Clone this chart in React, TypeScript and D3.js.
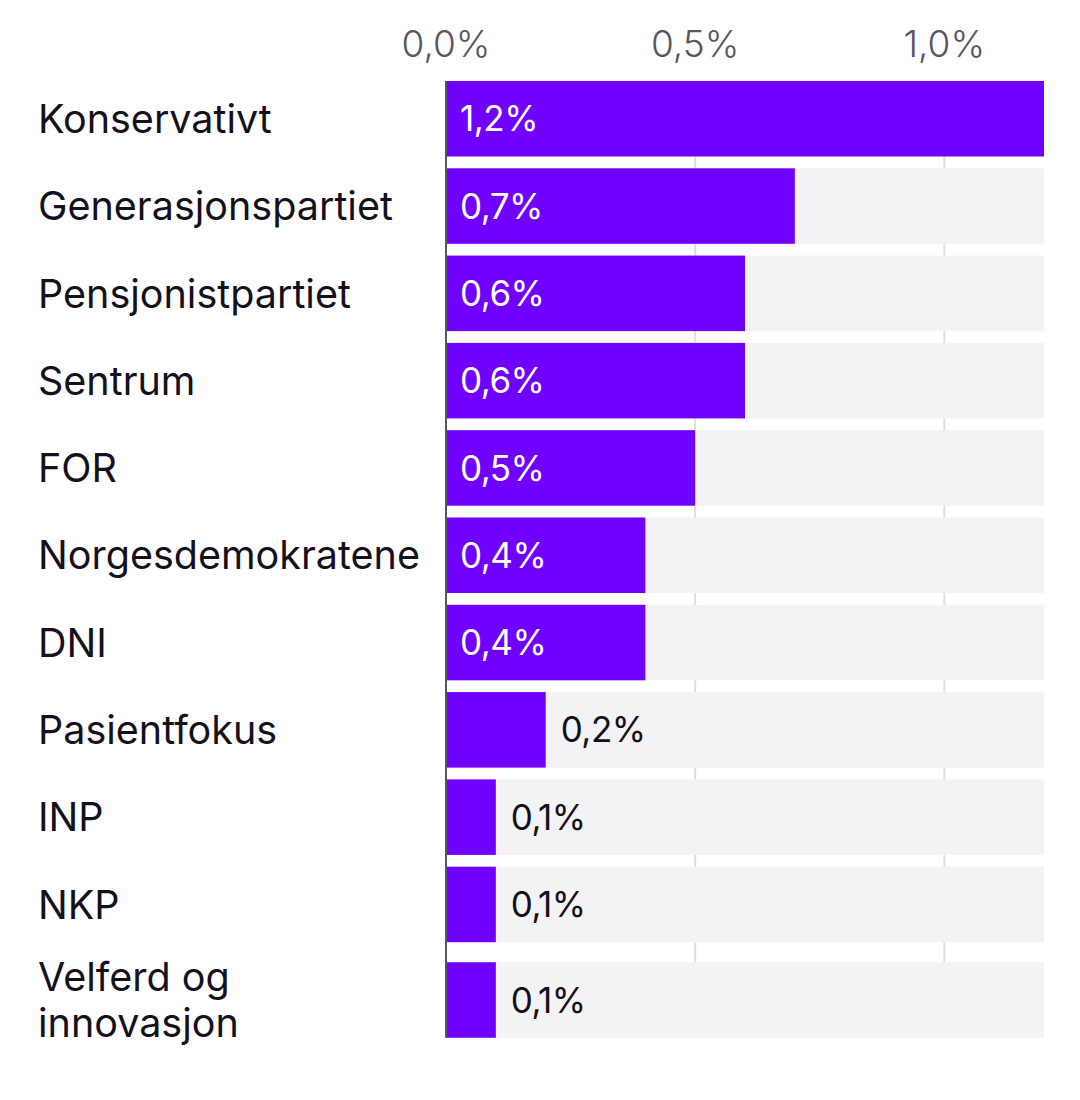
import { useEffect, useRef } from 'react';
import * as d3 from 'd3';

const parties = [
  'Konservativt',
  'Generasjonspartiet',
  'Pensjonistpartiet',
  'Sentrum',
  'FOR',
  'Norgesdemokratene',
  'DNI',
  'Pasientfokus',
  'INP',
  'NKP',
  'Velferd og innovasjon',
];
const shares = [1.2, 0.7, 0.6, 0.6, 0.5, 0.4, 0.4, 0.2, 0.1, 0.1, 0.1];
const tickValues = [0, 0.5, 1.0];

const fmt = (v: number) => v.toFixed(1).replace('.', ',') + '%';

export default function App() {
  const ref = useRef<SVGSVGElement>(null);

  useEffect(() => {
    document.body.style.margin = '0';
    if (!ref.current) return;

    const W = 1080, H = 1100;
    const left = 446, right = 1044, top = 81;
    const barH = 75.5, gap = 11.8, lineH = 46;
    const font = 'Inter, "Noto Sans", sans-serif';
    const labelSize = 39.5;
    const tickSize = 37;
    const valueSize = 35;

    // wrap long labels into lines (only the last one needs it)
    const lines = parties.map(p => (p.length > 20 ? ['Velferd og', 'innovasjon'] : [p]));
    const rowH = lines.map(l => Math.max(barH, l.length * lineH));
    const offsets = [0, ...d3.cumsum(rowH.map(h => h + gap))];

    const x = d3.scaleLinear().domain([0, 1.2]).range([left, right]);

    const rows = parties.map((p, i) => {
      const y0 = top + offsets[i];
      const by = y0 + (rowH[i] - barH) / 2;
      return { p, v: shares[i], lines: lines[i], y: by, cy: by + barH / 2 };
    });
    const bottom = rows[rows.length - 1].y + barH;

    const svg = d3.select(ref.current);
    svg.selectAll('*').remove();
    svg.attr('viewBox', `0 0 ${W} ${H}`).attr('width', W).attr('height', H);

    svg.append('rect').attr('width', W).attr('height', H).attr('fill', '#fff');

    // grid lines
    svg.append('g')
      .selectAll('line')
      .data(tickValues.slice(1))
      .enter()
      .append('line')
      .attr('x1', d => x(d)).attr('x2', d => x(d))
      .attr('y1', top).attr('y2', bottom)
      .attr('stroke', '#dedde0').attr('stroke-width', 2);

    // tick labels
    svg.append('g')
      .selectAll('text')
      .data(tickValues)
      .enter()
      .append('text')
      .attr('x', d => x(d))
      .attr('y', 57)
      .attr('text-anchor', 'middle')
      .attr('font-family', font)
      .attr('font-size', tickSize)
      .attr('font-weight', 300)
      .attr('fill', '#5a5560')
      .text(d => fmt(d));

    const g = svg.append('g');

    // background tracks
    g.selectAll('rect.bg')
      .data(rows)
      .enter()
      .append('rect')
      .attr('class', 'bg')
      .attr('x', left)
      .attr('y', d => d.y)
      .attr('width', right - left)
      .attr('height', barH)
      .attr('fill', '#f3f2f4');

    // bars
    g.selectAll('rect.bar')
      .data(rows)
      .enter()
      .append('rect')
      .attr('class', 'bar')
      .attr('x', left)
      .attr('y', d => d.y)
      .attr('width', d => x(d.v) - left)
      .attr('height', barH)
      .attr('fill', '#7000ff');

    // axis line
    svg.append('line')
      .attr('x1', left).attr('x2', left)
      .attr('y1', top).attr('y2', bottom)
      .attr('stroke', '#5a5560').attr('stroke-width', 2);

    // value labels
    g.selectAll('text.val')
      .data(rows)
      .enter()
      .append('text')
      .attr('class', 'val')
      .attr('x', d => (d.v >= 0.4 ? left + 14 : x(d.v) + 15))
      .attr('y', d => d.cy)
      .attr('dy', '0.36em')
      .attr('font-family', font)
      .attr('font-size', valueSize)
      .attr('letter-spacing', -0.5)
      .attr('fill', d => (d.v >= 0.4 ? '#fff' : '#14101c'))
      .text(d => fmt(d.v));

    // category labels
    const lab = g.selectAll('text.lab')
      .data(rows)
      .enter()
      .append('text')
      .attr('class', 'lab')
      .attr('x', 38)
      .attr('y', d => d.cy - ((d.lines.length - 1) * lineH) / 2)
      .attr('font-family', font)
      .attr('font-size', labelSize)
      .attr('fill', '#14101c');
    lab.selectAll('tspan')
      .data(d => d.lines.map((t, k) => ({ t, k })))
      .enter()
      .append('tspan')
      .attr('x', 38)
      .attr('dy', d => (d.k === 0 ? '0.36em' : lineH))
      .text(d => d.t);
  }, []);

  return <svg ref={ref} style={{ display: 'block' }} />;
}
